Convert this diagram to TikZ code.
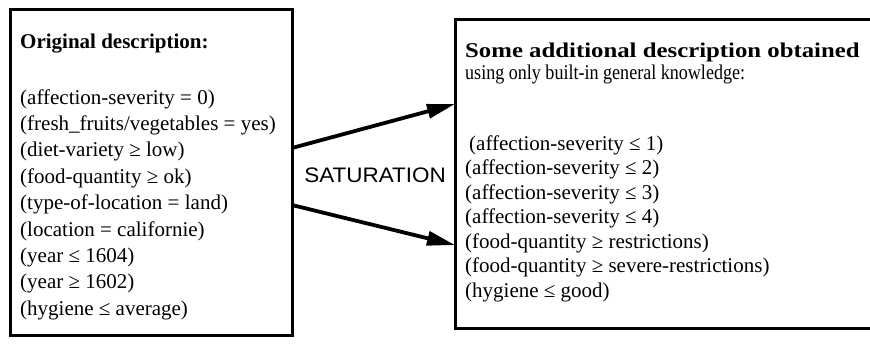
\documentclass[tikz,border=0pt]{standalone}
\usepackage{fontspec}
\usepackage{graphicx}
\setmainfont{Liberation Serif}
\newfontfamily\satfont{Liberation Sans}
\usetikzlibrary{arrows.meta,calc}
\begin{document}
\begin{tikzpicture}[x=1bp,y=1bp,
  frame/.style={draw=black, line width=3bp, inner sep=0pt, outer sep=0pt, anchor=north west},
  txt/.style={anchor=base west, inner sep=0pt, font=\fontsize{21bp}{25bp}\selectfont},
  hd/.style={anchor=base west, inner sep=0pt, font=\fontsize{21bp}{25bp}\selectfont\bfseries},
  sat/.style={inner sep=0pt, font=\satfont\fontsize{21bp}{25bp}\selectfont},
  flow/.style={line width=3.8bp, -{Triangle[length=28bp,width=14bp]}}]
\useasboundingbox (0,0) rectangle (870,344);
\clip (0,0) rectangle (870,344);
% boxes
\node[frame, minimum width=282bp, minimum height=325bp] (L) at (10,334) {};
\node[frame, minimum width=430bp, minimum height=308bp] (R) at (455,324) {};
% left text
\node[hd] (Lt) at (20,296) {Original description:};
\foreach [count=\i from 0] \t in {{(affection-severity = 0)},{(fresh\_fruits/vegetables = yes)},{(diet-variety ≥ low)},{(food-quantity ≥ ok)},{(type-of-location = land)},{(location = californie)},{(year ≤ 1604)},{(year ≥ 1602)},{(hygiene ≤ average)}}
  \node[txt] (La\i) at (20,240-\i*26.4) {\t};
% right text
\node[hd] (Rt) at (465,287) {\scalebox{1.18}[1]{Some additional description obtained}};
\node[txt] (Ru) at (465,265) {\scalebox{0.86}[1]{using only built-in general knowledge:}};
\node[txt] (Ra0) at (469,194) {(affection-severity ≤ 1)};
\foreach [count=\i from 1] \t in {{(affection-severity ≤ 2)},{(affection-severity ≤ 3)},{(affection-severity ≤ 4)},{(food-quantity ≥ restrictions)},{(food-quantity ≥ severe-restrictions)},{(hygiene ≤ good)}}
  \node[txt] (Ra\i) at (465,194-\i*24.5) {\t};
% label and arrows
\node[sat] (S) at (375,169) {\scalebox{1.07}[1]{SATURATION}};
\draw[flow] ([yshift=24.5bp]L.east) -- ([yshift=70bp]R.west);
\draw[flow] ([yshift=-32.5bp]L.east) -- ([yshift=-71bp]R.west);
\end{tikzpicture}
\end{document}
